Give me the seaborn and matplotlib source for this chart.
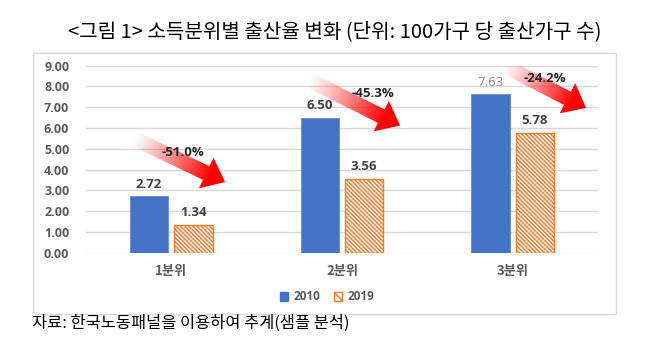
import numpy as np
import pandas as pd
import seaborn as sns
import matplotlib.pyplot as plt
from matplotlib.patches import Patch, Polygon, Rectangle

# data
quantiles = ["1분위", "2분위", "3분위"]
years = ["2010", "2019"]
births_2010 = [2.72, 6.50, 7.63]
births_2019 = [1.34, 3.56, 5.78]
pct_change = ["-51.0%", "-45.3%", "-24.2%"]

BLUE = "#4472C4"
ORANGE = "#ED7D31"
GRID = "#D9D9D9"
TXT = "#595959"
LBL = "#404040"

df = pd.DataFrame({
    "quantile": quantiles * 2,
    "year": [years[0]] * len(quantiles) + [years[1]] * len(quantiles),
    "value": births_2010 + births_2019,
})

sns.set_theme(style="white")
plt.rcParams["font.family"] = ["Noto Sans CJK KR", "DejaVu Sans"]
plt.rcParams["hatch.linewidth"] = 1.1
HATCH = "\\" * 8


def gradient_arrow(ax, tail, tip, shaft_w=15, head_w=34, head_l=21):
    """Red arrow fading out toward its tail (sizes in pixels)."""
    p0 = ax.transData.transform(tail)
    p1 = ax.transData.transform(tip)
    d = p1 - p0
    L = np.hypot(*d)
    u = d / L
    n = np.array([-u[1], u[0]])
    base = p1 - u * head_l
    pts = np.array([p0 + n * shaft_w / 2, base + n * shaft_w / 2,
                    base + n * head_w / 2, p1, base - n * head_w / 2,
                    base - n * shaft_w / 2, p0 - n * shaft_w / 2])
    poly = Polygon(ax.transData.inverted().transform(pts), closed=True,
                   facecolor="none", edgecolor="none", transform=ax.transData)
    ax.add_patch(poly)
    lo, hi = pts.min(axis=0), pts.max(axis=0)
    gx, gy = np.meshgrid(np.linspace(lo[0], hi[0], 120),
                         np.linspace(lo[1], hi[1], 120))
    t = ((gx - p0[0]) * u[0] + (gy - p0[1]) * u[1]) / L
    t = np.clip(t * 1.2, 0, 1) ** 1.1
    img = np.zeros(gx.shape + (4,))
    img[..., 0] = 1.0
    img[..., 3] = t
    (x0, y0), (x1, y1) = ax.transData.inverted().transform([lo, hi])
    im = ax.imshow(img, extent=[x0, x1, y0, y1], origin="lower",
                   aspect="auto", interpolation="bilinear", zorder=4)
    im.set_clip_path(poly)


fig = plt.figure(figsize=(6.63, 3.51), dpi=100)
ax = fig.add_axes([86 / 663, 1 - 252.7 / 351, 512 / 663, 187 / 351])

sns.barplot(data=df, x="quantile", y="value", hue="year",
            palette=[BLUE, ORANGE], saturation=1, width=0.52, gap=0.13,
            legend=False, ax=ax, zorder=2)

for bar in ax.containers[0]:
    bar.set_edgecolor("#6F93D6")
    bar.set_linewidth(0.8)
for bar in ax.containers[1]:
    bar.set_facecolor("white")
    bar.set_edgecolor(ORANGE)
    bar.set_hatch(HATCH)
    bar.set_linewidth(1.0)

ax.set_ylim(0, 9)
ax.set_xlim(-0.5, len(quantiles) - 0.5)
ax.set_yticks(np.arange(0, 10, 1))
ax.set_yticklabels([f"{v:.2f}" for v in np.arange(0, 10, 1)],
                   family="Open Sans", fontweight="bold", fontsize=9, color=TXT)
ax.set_xticks(range(len(quantiles)))
ax.set_xticklabels(quantiles, fontsize=9.5, color=TXT, fontweight="bold")
ax.tick_params(axis="y", length=0, pad=12)
ax.tick_params(axis="x", length=0, pad=8)
ax.set_xlabel("")
ax.set_ylabel("")
ax.grid(axis="y", color=GRID, lw=1)
ax.set_axisbelow(True)
for s in ax.spines.values():
    s.set_visible(False)

for cont, vals in zip(ax.containers, [births_2010, births_2019]):
    texts = ax.bar_label(cont, labels=[f"{v:.2f}" for v in vals], padding=4,
                         fontsize=9.5, fontweight="bold", color=LBL, family="Open Sans")
    if vals is births_2010:
        texts[2].set_color("#8C8C8C")
        texts[2].set_fontweight("normal")

# trend arrows and % change labels (offsets relative to category centre)
arrow_geom = [((-0.22, 5.50), (0.315, 3.40)),
              ((-0.19, 8.30), (0.34, 6.12)),
              ((-0.05, 9.00), (0.43, 6.97))]
pct_pos = [(0.07, 4.80), (0.18, 7.64), (0.19, 8.40)]
for i, ((tx, ty), (hx, hy)) in enumerate(arrow_geom):
    gradient_arrow(ax, (i + tx, ty), (i + hx, hy))
    ax.text(i + pct_pos[i][0], pct_pos[i][1], pct_change[i], ha="center",
            va="center", fontsize=9.5, fontweight="bold", color="#262626",
            family="Open Sans", zorder=5)

handles = [Patch(facecolor=BLUE, edgecolor=BLUE),
           Patch(facecolor="white", edgecolor=ORANGE, hatch="\\\\\\\\")]
fig.legend(handles, years, loc="center", bbox_to_anchor=(327 / 663, 1 - 297 / 351),
           ncol=2, frameon=False, handlelength=0.7, handleheight=0.7,
           handletextpad=0.4, columnspacing=1.2,
           prop={"family": "Open Sans", "weight": "bold", "size": 8.5},
           labelcolor=TXT)

fig.patches.append(Rectangle((33 / 663, 1 - 314 / 351), 583 / 663, 261 / 351,
                             transform=fig.transFigure, fill=False,
                             edgecolor=GRID, lw=1))

fig.text(335 / 663, 1 - 32 / 351,
         "<그림 1> 소득분위별 출산율 변화 (단위: 100가구 당 출산가구 수)",
         ha="center", va="center", fontsize=14.5, color="black")
fig.text(32 / 663, 1 - 323 / 351, "자료: 한국노동패널을 이용하여 추계(샘플 분석)",
         ha="left", va="center", fontsize=11.8, color="black")

fig.savefig("out.png", dpi=100)
